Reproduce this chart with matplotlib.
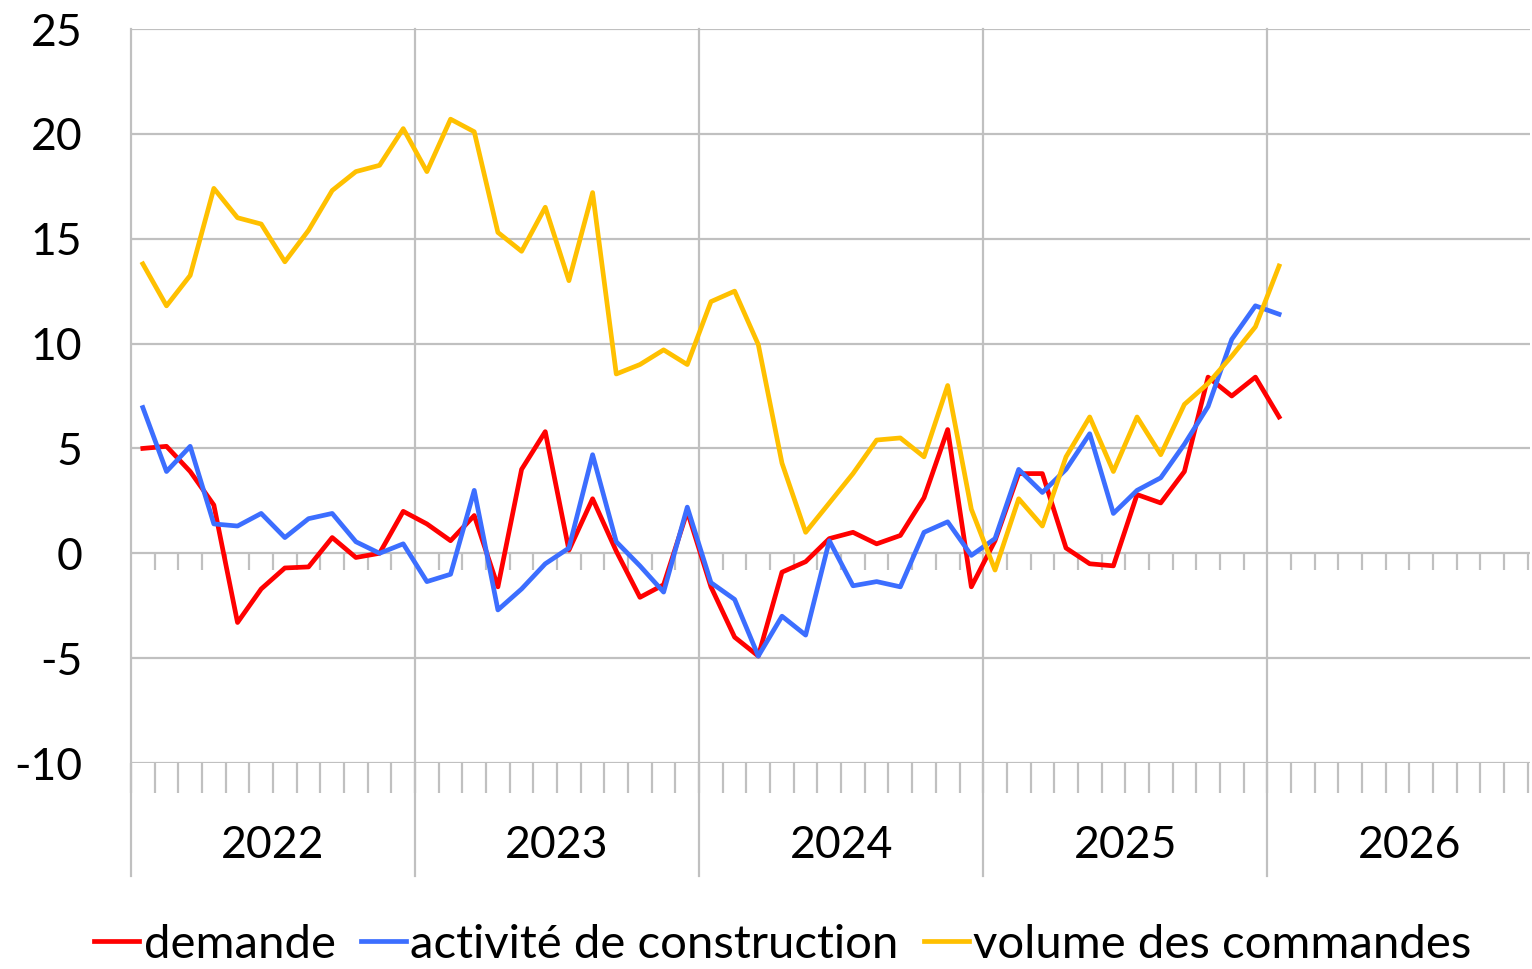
import numpy as np
import matplotlib
matplotlib.use("Agg")
import matplotlib.pyplot as plt
import matplotlib.transforms as mtransforms

plt.rcParams['font.family'] = ['Lato', 'DejaVu Sans']

# monthly survey balances, Jan 2022 .. Jan 2026
demande = [5.0, 5.1, 3.9, 2.3, -3.3, -1.7, -0.7, -0.65, 0.75, -0.2, 0.0, 2.0,
           1.4, 0.6, 1.8, -1.6, 4.0, 5.8, 0.15, 2.6, 0.1, -2.1, -1.5, 2.0,
           -1.6, -4.0, -4.9, -0.9, -0.4, 0.7, 1.0, 0.45, 0.85, 2.65, 5.9, -1.6,
           0.6, 3.8, 3.8, 0.25, -0.5, -0.6, 2.8, 2.4, 3.9, 8.4, 7.5, 8.4,
           6.5]
activite = [6.95, 3.9, 5.1, 1.4, 1.3, 1.9, 0.75, 1.65, 1.9, 0.55, 0.0, 0.45,
            -1.35, -1.0, 3.0, -2.7, -1.7, -0.5, 0.25, 4.7, 0.55, -0.6, -1.85, 2.2,
            -1.4, -2.2, -4.9, -3.0, -3.9, 0.6, -1.55, -1.35, -1.6, 1.0, 1.5, -0.1,
            0.7, 4.0, 2.9, 4.0, 5.7, 1.9, 3.0, 3.6, 5.2, 7.0, 10.2, 11.8,
            11.4]
volume = [13.8, 11.8, 13.25, 17.4, 16.0, 15.7, 13.9, 15.4, 17.3, 18.2, 18.5, 20.25,
          18.2, 20.7, 20.1, 15.3, 14.4, 16.5, 13.0, 17.2, 8.55, 9.0, 9.7, 9.0,
          12.0, 12.5, 9.95, 4.3, 1.0, 2.4, 3.8, 5.4, 5.5, 4.6, 8.0, 2.1,
          -0.8, 2.6, 1.3, 4.6, 6.5, 3.9, 6.5, 4.7, 7.1, 8.1, 9.4, 10.8,
          13.7]
years = ["2022", "2023", "2024", "2025", "2026"]
yticks = [-10, -5, 0, 5, 10, 15, 20, 25]

grid_col = "#C0C0C0"
fs = 32

fig = plt.figure(figsize=(15.32, 9.69), dpi=100)
ax = fig.add_axes([131 / 1532, 1 - 763 / 969, (1530 - 131) / 1532, 734 / 969])

x = np.arange(len(demande)) + 0.5
n_months = 12 * len(years)
x_end = 59.1  # picture is cut a little before the end of 2026

# month ticks under the bottom line (set before the limits, set_xticks widens them)
ax.set_xticks(np.arange(0, 60), minor=True)
ax.set_xticks([])
ax.tick_params(axis='x', which='minor', length=21.5, width=1.6, color=grid_col,
               direction='out')

ax.set_ylim(-10, 25)
ax.set_xlim(0, x_end)

# horizontal gridlines
for yv in yticks:
    ax.axhline(yv, color=grid_col, lw=1.6, zorder=1)

# year separators, running down past the axis into the label area
trans = mtransforms.blended_transform_factory(ax.transData, ax.transAxes)
for k in range(len(years)):
    ax.plot([12 * k, 12 * k], [1, -0.154], transform=trans, color=grid_col,
            lw=1.6, clip_on=False, zorder=1)

# small month ticks on the zero line
edges = np.arange(1, 60)
edges = edges[edges % 12 != 0]
ax.vlines(edges, -0.8, 0, color=grid_col, lw=1.6, zorder=1)

for k, yr in enumerate(years):
    ax.text(12 * k + 6, -0.112, yr, transform=trans, ha='center', va='center',
            fontsize=fs, color='black')

ax.set_yticks(yticks)
ax.set_yticklabels([str(v) for v in yticks], fontsize=fs)
ax.tick_params(axis='y', length=0, pad=35)

for s in ax.spines.values():
    s.set_visible(False)

ax.plot(x, demande, color="#FF0000", lw=3.4, label="demande", zorder=3)
ax.plot(x, activite, color="#3C6EFF", lw=3.4, label="activité de construction", zorder=3)
ax.plot(x, volume, color="#FFC000", lw=3.4, label="volume des commandes", zorder=3)

fig.legend(loc='center', bbox_to_anchor=(0.511, 0.025), ncol=3, frameon=False,
           fontsize=34, handlelength=0.95, handletextpad=0.1, columnspacing=0.53,
           borderaxespad=0)

fig.savefig("out.png", dpi=100)
